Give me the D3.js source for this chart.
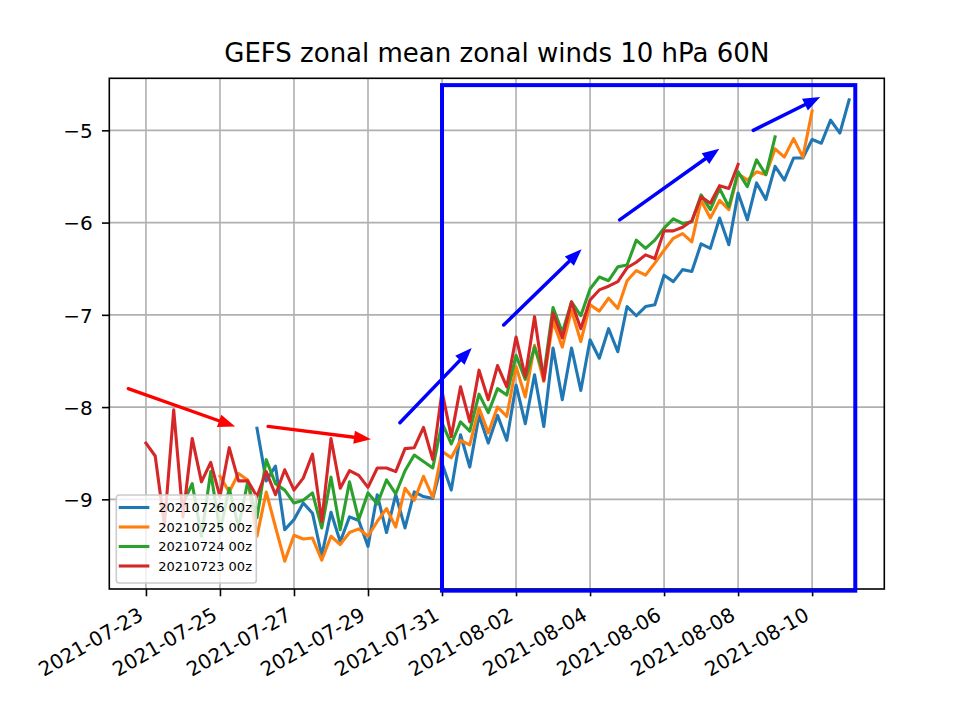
<!DOCTYPE html>
<html><head><meta charset="utf-8">
<script src="https://cdn.jsdelivr.net/npm/d3@7"></script>
<style>body{margin:0;background:#fff} svg{display:block} text{font-family:"DejaVu Sans",sans-serif}</style>
</head><body><svg id="c" width="962" height="717"></svg>
<script>
const chartTitle = "GEFS zonal mean zonal winds 10 hPa 60N";
const seriesNames = ["20210726 00z", "20210725 00z", "20210724 00z", "20210723 00z"];
const seriesStarts = ["2021-07-26T00:00:00Z", "2021-07-25T00:00:00Z", "2021-07-24T00:00:00Z", "2021-07-23T00:00:00Z"];
const seriesColors = ["#1f77b4", "#ff7f0e", "#2ca02c", "#d62728"];
const stepHours = 6;

const v0726 = [-8.23,-8.80,-8.64,-9.33,-9.22,-9.04,-9.15,-9.61,-9.14,-9.46,
 -9.19,-9.23,-9.51,-8.95,-9.36,-8.95,-9.31,-8.92,-8.97,-8.99,
 -8.61,-8.90,-8.30,-8.65,-8.09,-8.39,-8.09,-8.36,-7.76,-8.18,
 -7.65,-8.21,-7.36,-7.92,-7.36,-7.82,-7.27,-7.47,-7.15,-7.40,
 -6.91,-7.01,-6.91,-6.89,-6.57,-6.64,-6.51,-6.53,-6.23,-6.28,
 -5.95,-6.24,-5.68,-5.97,-5.57,-5.75,-5.39,-5.54,-5.30,-5.30,
 -5.10,-5.14,-4.89,-5.03,-4.67];
const v0725 = [-8.75,-8.92,-8.72,-8.79,-9.40,-8.92,-9.30,-9.67,-9.39,-9.43,
 -9.42,-9.66,-9.40,-9.49,-9.36,-9.32,-9.40,-9.24,-9.10,-9.30,
 -8.88,-9.01,-8.75,-8.98,-8.48,-8.55,-8.36,-8.41,-8.01,-8.28,
 -8.00,-8.10,-7.56,-7.89,-7.33,-7.72,-7.07,-7.35,-6.95,-7.29,
 -6.89,-6.96,-6.82,-6.93,-6.63,-6.52,-6.57,-6.44,-6.30,-6.17,
 -6.12,-6.21,-5.76,-5.95,-5.76,-5.86,-5.47,-5.54,-5.45,-5.48,
 -5.20,-5.29,-5.09,-5.29,-4.79];
const v0724 = [-9.05,-8.83,-9.40,-8.70,-9.35,-8.88,-9.30,-8.81,-9.20,-8.57,
 -8.83,-8.90,-9.04,-9.01,-8.93,-9.31,-8.76,-9.33,-8.81,-9.22,
 -8.93,-9.05,-8.79,-8.94,-8.69,-8.52,-8.59,-8.66,-8.17,-8.40,
 -8.16,-8.26,-7.86,-8.06,-7.80,-7.87,-7.44,-7.70,-7.35,-7.65,
 -6.92,-7.19,-6.86,-7.01,-6.72,-6.59,-6.63,-6.48,-6.46,-6.19,
 -6.28,-6.19,-6.06,-5.96,-6.01,-5.99,-5.70,-5.86,-5.63,-5.83,
 -5.45,-5.61,-5.32,-5.48,-5.07];
const v0723 = [-8.39,-8.53,-9.28,-8.03,-9.19,-8.34,-8.81,-8.60,-8.97,-8.44,
 -8.80,-8.80,-8.97,-8.70,-8.95,-8.68,-8.90,-8.77,-8.51,-9.24,
 -8.34,-8.88,-8.69,-8.74,-8.87,-8.66,-8.66,-8.70,-8.45,-8.44,
 -8.22,-8.57,-7.83,-8.32,-7.78,-8.16,-7.60,-7.92,-7.55,-7.78,
 -7.24,-7.67,-7.02,-7.71,-6.98,-7.25,-6.86,-7.15,-6.84,-6.73,
 -6.69,-6.64,-6.49,-6.43,-6.35,-6.39,-6.09,-6.09,-6.05,-5.98,
 -5.72,-5.79,-5.60,-5.63,-5.37];
const seriesValues = [v0726, v0725, v0724, v0723];

const xTickLabels = ["2021-07-23","2021-07-25","2021-07-27","2021-07-29","2021-07-31",
 "2021-08-02","2021-08-04","2021-08-06","2021-08-08","2021-08-10"];
const yTicks = [-9, -8, -7, -6, -5];
const xDomain = ["2021-07-22T00:14:00Z", "2021-08-11T22:49:00Z"];
const yDomain = [-9.972, -4.436];

// annotations (data coordinates)
const boxX = ["2021-07-31T00:00:00Z", "2021-08-11T04:00:00Z"];
const boxY = [-9.99, -4.51];
const redArrows = [
  [["2021-07-22T12:30:00Z", -7.80], ["2021-07-25T09:50:00Z", -8.21]],
  [["2021-07-26T07:10:00Z", -8.21], ["2021-07-29T01:55:00Z", -8.35]]
];
const blueArrows = [
  [["2021-07-29T20:40:00Z", -8.17], ["2021-07-31T19:15:00Z", -7.36]],
  [["2021-08-01T16:00:00Z", -7.11], ["2021-08-03T18:30:00Z", -6.29]],
  [["2021-08-04T19:10:00Z", -5.97], ["2021-08-07T11:50:00Z", -5.20]],
  [["2021-08-08T09:50:00Z", -5.00], ["2021-08-10T05:15:00Z", -4.64]]
];

const W = 962, H = 717;
const L = 109.3, R = 884.3, T = 78.3, B = 589;
const svg = d3.select("#c");
const parse = s => new Date(s);
const x = d3.scaleUtc().domain(xDomain.map(parse)).range([L, R]);
const y = d3.scaleLinear().domain(yDomain).range([B, T]);

svg.append("rect").attr("width", W).attr("height", H).attr("fill", "#fff");

// grid
const grid = svg.append("g");
xTickLabels.forEach(t => {
  const xx = x(parse(t + "T00:00:00Z"));
  grid.append("line").attr("x1", xx).attr("x2", xx).attr("y1", T).attr("y2", B)
    .attr("stroke", "#b0b0b0").attr("stroke-width", 1.6);
});
yTicks.forEach(t => {
  grid.append("line").attr("x1", L).attr("x2", R).attr("y1", y(t)).attr("y2", y(t))
    .attr("stroke", "#b0b0b0").attr("stroke-width", 1.6);
});

// series
const line = d3.line().x(d => x(d.t)).y(d => y(d.v));
svg.append("clipPath").attr("id", "clip").append("rect")
  .attr("x", L).attr("y", T).attr("width", R - L).attr("height", B - T);
const lines = svg.append("g").attr("clip-path", "url(#clip)");
seriesValues.forEach((vals, k) => {
  const t0 = parse(seriesStarts[k]).getTime();
  const pts = vals.map((v, i) => ({ t: new Date(t0 + i * stepHours * 3600e3), v }));
  lines.append("path").datum(pts).attr("d", line).attr("fill", "none")
    .attr("stroke", seriesColors[k]).attr("stroke-width", 3.1)
    .attr("stroke-linejoin", "round").attr("stroke-linecap", "square");
});

// spines
svg.append("rect").attr("x", L).attr("y", T).attr("width", R - L).attr("height", B - T)
  .attr("fill", "none").attr("stroke", "#000").attr("stroke-width", 1.6);

// x axis
const xAxis = d3.axisBottom(x).tickValues(xTickLabels.map(t => parse(t + "T00:00:00Z")))
  .tickSize(7.3).tickFormat(d3.utcFormat("%Y-%m-%d"));
const gx = svg.append("g").attr("transform", `translate(0,${B})`).call(xAxis);
gx.select(".domain").remove();
gx.selectAll(".tick line").attr("stroke", "#000").attr("stroke-width", 1.6);
gx.selectAll(".tick text").attr("x", 0).attr("y", 0).attr("dy", 0)
  .attr("text-anchor", "end").attr("fill", "#000")
  .attr("font-size", 20).attr("font-family", "DejaVu Sans")
  .attr("transform", "translate(-2,30) rotate(-30)");

// y axis
const yAxis = d3.axisLeft(y).tickValues(yTicks).tickSize(7.3)
  .tickFormat(d => d3.format("d")(d).replace("-", "\u2212"));
const gy = svg.append("g").attr("transform", `translate(${L},0)`).call(yAxis);
gy.select(".domain").remove();
gy.selectAll(".tick line").attr("stroke", "#000").attr("stroke-width", 1.6);
gy.selectAll(".tick text").attr("x", -16.5).attr("dy", "0.36em").attr("fill", "#000")
  .attr("font-size", 20).attr("font-family", "DejaVu Sans");

// title
svg.append("text").attr("x", (L + R) / 2).attr("y", 62).attr("text-anchor", "middle")
  .attr("font-size", 26).attr("fill", "#000").text(chartTitle);

// legend
const lg = svg.append("g");
const lx = L + 7, ly = 495, lw = 140, lh = 88;
lg.append("rect").attr("x", lx).attr("y", ly).attr("width", lw).attr("height", lh)
  .attr("rx", 3).attr("fill", "#fff").attr("fill-opacity", 0.8)
  .attr("stroke", "#cccccc").attr("stroke-width", 1.6);
seriesNames.forEach((n, k) => {
  const cy = ly + 12.5 + k * 19.5;
  lg.append("line").attr("x1", lx + 4).attr("x2", lx + 31.5).attr("y1", cy).attr("y2", cy)
    .attr("stroke", seriesColors[k]).attr("stroke-width", 3.1).attr("stroke-linecap", "square");
  lg.append("text").attr("x", lx + 42).attr("y", cy).attr("dy", "0.36em")
    .attr("font-size", 13).attr("fill", "#000").text(n);
});

// annotations
const ann = svg.append("g");
ann.append("rect")
  .attr("x", x(parse(boxX[0]))).attr("y", y(boxY[1]))
  .attr("width", x(parse(boxX[1])) - x(parse(boxX[0])))
  .attr("height", y(boxY[0]) - y(boxY[1]))
  .attr("fill", "none").attr("stroke", "#0000ff").attr("stroke-width", 4);

function arrow(a, color, w) {
  const x1 = x(parse(a[0][0])), y1 = y(a[0][1]);
  const x2 = x(parse(a[1][0])), y2 = y(a[1][1]);
  const ang = Math.atan2(y2 - y1, x2 - x1);
  const hl = 17, hw = 6.5;
  const bx = x2 - hl * Math.cos(ang), by = y2 - hl * Math.sin(ang);
  ann.append("line").attr("x1", x1).attr("y1", y1).attr("x2", bx + 2 * Math.cos(ang)).attr("y2", by + 2 * Math.sin(ang))
    .attr("stroke", color).attr("stroke-width", w).attr("stroke-linecap", "round");
  const px = -Math.sin(ang), py = Math.cos(ang);
  ann.append("path").attr("d", `M${x2},${y2}L${bx + hw * px},${by + hw * py}L${bx - hw * px},${by - hw * py}Z`)
    .attr("fill", color);
}
redArrows.forEach(a => arrow(a, "#ff0000", 3.3));
blueArrows.forEach(a => arrow(a, "#0000ff", 3.5));
</script></body></html>
